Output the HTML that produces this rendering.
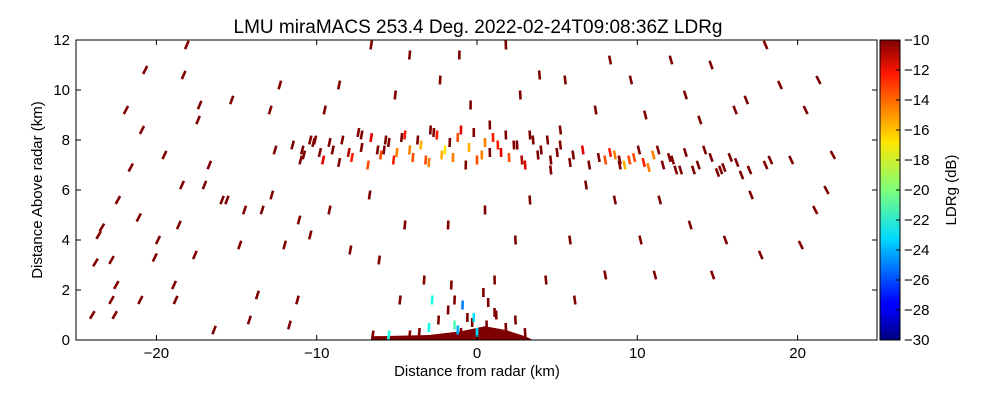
<!DOCTYPE html>
<html><head><meta charset="utf-8"><style>
body{margin:0;background:#fff;font-family:"Liberation Sans",sans-serif}
svg text{font-family:"Liberation Sans",sans-serif}
</style></head><body>
<svg id="c" width="1000" height="400" xmlns="http://www.w3.org/2000/svg">
<defs><linearGradient id="jet" x1="0" y1="1" x2="0" y2="0">
<stop offset="0" stop-color="#00007f"/><stop offset="0.11" stop-color="#0000ff"/><stop offset="0.125" stop-color="#0000ff"/>
<stop offset="0.34" stop-color="#00dcff"/><stop offset="0.5" stop-color="#7dff7a"/><stop offset="0.66" stop-color="#ffe600"/>
<stop offset="0.89" stop-color="#ff1600"/><stop offset="1" stop-color="#7f0000"/></linearGradient></defs>
<text x="478" y="33" font-size="19" text-anchor="middle">LMU miraMACS 253.4 Deg. 2022-02-24T09:08:36Z  LDRg</text>
<g id="marks"></g>
<g id="axes"></g>
<rect x="880" y="40" width="20" height="300" fill="url(#jet)" stroke="#000"/>
<g id="cbar"></g>
<text x="956" y="190" font-size="15" text-anchor="middle" transform="rotate(-90 956 190)">LDRg (dB)</text>
<text x="477" y="376" font-size="15" text-anchor="middle">Distance from radar (km)</text>
<text x="42" y="190" font-size="15" text-anchor="middle" transform="rotate(-90 42 190)">Distance Above radar  (km)</text>
</svg>
<script>
const xTicks=[-20,-10,0,10,20];
const yTicks=[0,2,4,6,8,10,12];
const cTicks=[-10,-12,-14,-16,-18,-20,-22,-24,-26,-28,-30];
const xs=[-24.0,-23.8,-23.6,-23.4,-22.8,-22.8,-22.6,-22.5,-22.4,-21.9,-21.6,-21.1,-21.0,-20.9,-20.7,-20.1,-19.9,-19.5,-18.9,-18.8,-18.6,-18.4,-18.3,-18.1,-17.6,-17.4,-17.3,-17.0,-16.7,-16.4,-15.9,-15.6,-15.3,-14.8,-14.5,-14.2,-13.7,-13.4,-12.9,-12.8,-12.6,-12.3,-12.0,-11.7,-11.2,-11.1,-10.9,-10.4,-10.1,-9.5,-9.2,-8.6,-7.9,-7.2,-6.7,-6.6,-6.1,-5.8,-5.1,-4.8,-4.5,-4.2,-3.3,-2.9,-2.3,-1.8,-1.4,-1.1,-0.4,0.5,0.8,1.1,1.8,2.4,2.7,3.3,3.9,4.3,4.6,5.2,5.5,5.8,6.1,6.8,7.4,8.0,8.3,8.6,8.9,9.6,10.2,10.5,11.1,11.4,12.1,12.4,13.0,13.3,13.9,14.6,14.7,15.2,15.5,16.1,16.8,17.1,17.7,18.0,18.3,18.9,19.6,20.2,20.5,21.1,21.3,21.8,22.2,
-11.5,-10.8,-10.2,-9.6,-9.0,-8.4,-7.8,-7.2,-6.6,-6.0,-5.5,-5.0,-4.5,-4.0,-3.5,-3.0,-2.5,-2.0,-1.5,-1.0,-0.5,0,0.5,1.0,1.5,2.0,2.5,3.0,3.5,4.0,4.6,5.2,6.0,7.0,8.0,8.6,9.2,9.8,10.4,11.0,11.6,12.2,13.0,13.8,14.6,15.4,16.2,17.0,
-11.0,-10.4,-9.8,-9.2,-8.6,-8.0,-7.4,-6.8,-6.2,-5.7,-5.2,-4.7,-4.2,-3.7,-3.2,-2.7,-2.2,-1.7,-1.2,-0.7,-0.2,0.3,0.8,1.3,1.8,2.3,2.8,3.3,3.8,4.4,5.0,5.8,6.6,7.6,8.3,8.9,9.5,10.1,10.7,11.3,12.0,12.7,13.5,14.2,15.0,15.8,16.5,18.0,
-4.2,-3.6,-3.0,-2.4,-1.8,-1.2,-0.6,0,0.6,1.2,1.8,2.4,3.0,-2.8,-1.6,-0.9,-0.3,0.4,1.1,-1.4,-1.0,-0.2,0.7,-5.5,-6.5];
const ys=[1.0,3.1,4.2,4.5,3.2,1.6,1.0,2.2,5.6,9.2,6.9,4.9,1.6,8.4,10.8,3.3,4.0,7.4,2.2,1.6,4.6,6.2,10.6,11.8,3.4,8.8,9.4,6.2,7.0,0.4,5.6,5.6,9.6,3.8,5.2,0.8,1.8,5.2,9.2,5.8,7.6,10.2,3.8,0.6,1.6,4.8,7.6,4.2,8.0,9.2,5.2,10.2,3.6,8.2,5.8,11.8,3.2,7.6,9.8,1.6,4.6,11.4,2.4,8.4,10.4,4.6,1.6,11.4,9.4,5.2,8.6,2.4,11.8,4.0,9.8,5.6,10.6,2.4,6.8,8.4,10.4,4.0,1.6,6.2,9.2,2.6,11.2,5.6,7.2,10.4,4.0,9.0,2.6,5.6,11.2,6.8,9.8,4.6,8.8,11.0,2.6,6.8,4.0,9.2,9.6,5.8,3.4,11.8,7.2,10.2,7.2,3.8,9.2,5.2,10.4,6.0,7.4,
7.8,7.4,7.9,7.2,7.6,8.0,7.3,7.7,8.1,7.4,7.9,7.5,8.2,7.3,7.8,7.1,8.2,7.6,7.3,8.4,7.7,7.2,7.9,8.1,7.5,7.3,7.8,7.0,8.0,7.6,7.2,7.8,7.4,7.0,7.2,7.4,7.0,7.3,7.1,7.4,7.0,7.2,7.5,7.0,7.3,6.9,7.1,6.8,
7.2,8.0,7.5,7.9,7.1,7.5,8.3,7.0,7.6,8.0,7.2,8.1,7.6,8.0,7.2,8.3,7.4,7.9,8.1,7.0,8.3,7.4,7.5,7.8,8.2,7.8,7.2,8.2,7.4,8.0,7.5,7.1,7.6,7.3,7.5,7.0,7.2,7.6,6.9,7.6,7.3,6.8,6.8,7.6,6.7,7.3,6.6,7.0,
0.2,0.3,0.5,0.8,1.2,0.4,0.9,0.3,0.6,1.0,0.5,0.8,0.3,1.6,2.2,1.4,0.7,1.9,1.1,0.6,0.3,0.9,1.5,0.2,0.2];
const vals=[-10,-10,-10,-10,-10,-10,-10,-10,-10,-10,-10,-10,-10,-10,-10,-10,-10,-10,-10,-10,-10,-10,-10,-10,-10,-10,-10,-10,-10,-10,-10,-10,-10,-10,-10,-10,-10,-10,-10,-10,-10,-10,-10,-10,-10,-10,-10,-10,-10,-10,-10,-10,-10,-10,-10,-10,-10,-10,-10,-10,-10,-10,-10,-10,-10,-10,-10,-10,-10,-10,-10,-10,-10,-10,-10,-10,-10,-10,-10,-10,-10,-10,-10,-10,-10,-10,-10,-10,-10,-10,-10,-10,-10,-10,-10,-10,-10,-10,-10,-10,-10,-10,-10,-10,-10,-10,-10,-10,-10,-10,-10,-10,-10,-10,-10,-10,-10,
-10,-10,-10,-12,-10,-10,-13,-10,-12,-14,-10,-15,-13,-14,-16,-15,-13,-17,-15,-12,-16,-14,-15,-13,-12,-14,-10,-12,-10,-10,-10,-10,-10,-10,-14,-15,-16,-14,-13,-15,-10,-10,-10,-10,-10,-10,-10,-10,
-10,-10,-10,-10,-10,-11,-10,-14,-10,-10,-13,-10,-15,-10,-14,-10,-16,-10,-14,-10,-10,-15,-10,-13,-10,-10,-11,-10,-10,-10,-10,-10,-12,-10,-13,-10,-14,-10,-15,-10,-10,-10,-10,-10,-10,-10,-10,-10,
-10,-10,-22,-10,-10,-24,-10,-23,-10,-10,-10,-10,-10,-22,-10,-25,-10,-10,-10,-21,-10,-23,-10,-22,-10];
const X=v=>477+v*16.03, Y=v=>340-v*25;
function jet(v){let t=(v+30)/20;t=Math.max(0,Math.min(1,t));
 const f=x=>Math.round(255*Math.max(0,Math.min(1,1.5-Math.abs(4*t-x))));
 return `rgb(${f(3)},${f(2)},${f(1)})`;}
const NS="http://www.w3.org/2000/svg";
const m=document.getElementById('marks');
const gnd=document.createElementNS(NS,'path');
gnd.setAttribute('d',`M${X(-6.5)} ${Y(0)} L${X(-6.5)} ${Y(0.15)} L${X(-3)} ${Y(0.2)} L${X(-1)} ${Y(0.35)} L${X(0.5)} ${Y(0.55)} L${X(1.8)} ${Y(0.4)} L${X(3)} ${Y(0.15)} L${X(3.5)} ${Y(0)} Z`);
gnd.setAttribute('fill','#800000');


m.appendChild(gnd);
for(let i=0;i<xs.length;i++){
 const px=X(xs[i]),py=Y(ys[i]);
 const ang=-xs[i]*1.3;
 const r=document.createElementNS(NS,'rect');
 r.setAttribute('x',px-1.3);r.setAttribute('y',py-4.5);r.setAttribute('width',2.6);r.setAttribute('height',9);
 r.setAttribute('fill',jet(vals[i]));
 r.setAttribute('transform',`rotate(${ang} ${px} ${py})`);
 
 
 m.appendChild(r);
}
const a=document.getElementById('axes');
let h=`<rect x="76" y="40" width="801" height="300" fill="none" stroke="#000"/>`;
xTicks.forEach(t=>{const x=X(t);h+=`<line x1="${x}" y1="340" x2="${x}" y2="335" stroke="#000"/><line x1="${x}" y1="40" x2="${x}" y2="45" stroke="#000"/><text x="${x}" y="358" font-size="15" text-anchor="middle">${t<0?'\u2212'+(-t):t}</text>`;});
yTicks.forEach(t=>{const y=Y(t);h+=`<line x1="76" y1="${y}" x2="81" y2="${y}" stroke="#000"/><line x1="877" y1="${y}" x2="872" y2="${y}" stroke="#000"/><text x="70" y="${y+5}" font-size="15" text-anchor="end">${t}</text>`;});
a.innerHTML=h;
let c='';
cTicks.forEach(t=>{const y=40+(-10-t)/20*300;c+=`<line x1="896" y1="${y}" x2="900" y2="${y}" stroke="#000"/><text x="904" y="${y+5}" font-size="15">\u2212${-t}</text>`;});
document.getElementById('cbar').innerHTML=c;
</script>
</body></html>
